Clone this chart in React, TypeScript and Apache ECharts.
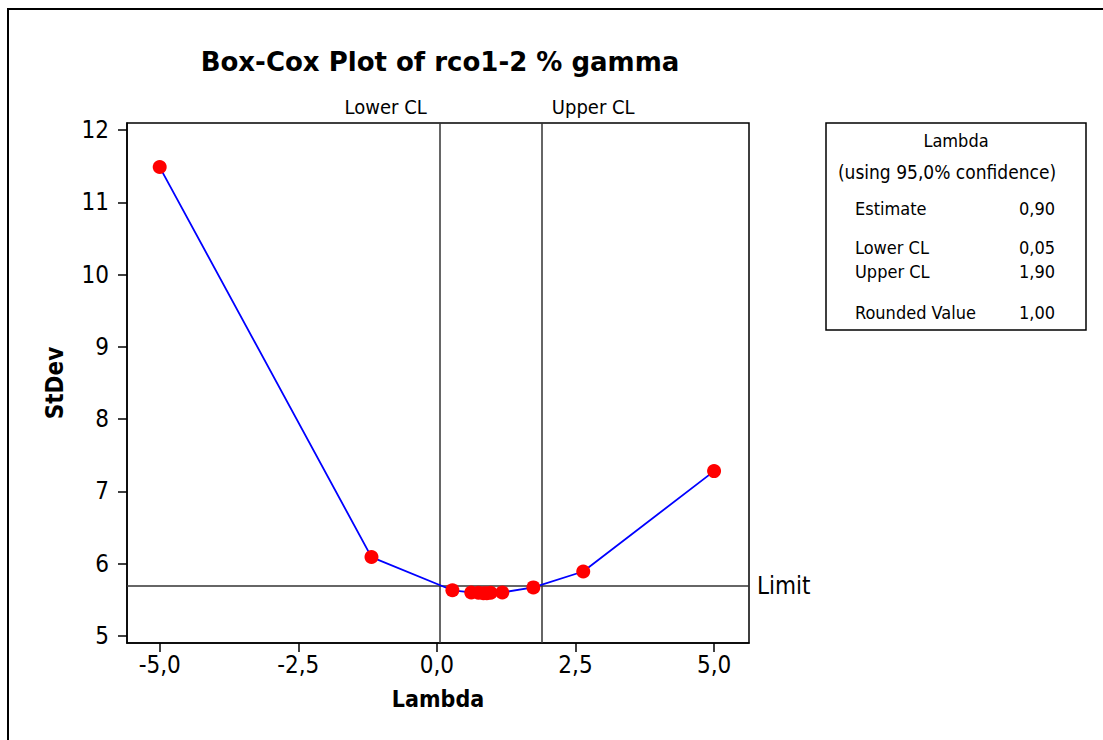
import React, { useEffect, useRef } from "react";
import * as echarts from "echarts";

// Box-Cox search: lambda values evaluated and the resulting pooled StDev
const lambdas = [-5, -1.18, 0.28, 0.62, 0.75, 0.84, 0.9, 0.97, 1.18, 1.74, 2.64, 5];
const stdevs = [11.49, 6.09, 5.63, 5.6, 5.595, 5.59, 5.59, 5.595, 5.6, 5.67, 5.89, 7.28];

const xTicks = [-5, -2.5, 0, 2.5, 5];
const yTicks = [5, 6, 7, 8, 9, 10, 11, 12];

// Summary values
const lambdaEstimate = 0.9;
const lowerCL = 0.05;
const upperCL = 1.9;
const roundedValue = 1.0;
const limitStDev = 5.69;

const FONT = "'DejaVu Sans Condensed', 'Noto Sans', 'DejaVu Sans', sans-serif";
const fmt = (v: number, d: number) => v.toFixed(d).replace(".", ",");

export default function App() {
  const ref = useRef<HTMLDivElement>(null);

  useEffect(() => {
    if (!ref.current) return;
    const chart = echarts.init(ref.current, undefined, { renderer: "svg" });

    const rowLabels = ["Estimate", "Lower CL", "Upper CL", "Rounded Value"];
    const rowValues = [lambdaEstimate, lowerCL, upperCL, roundedValue];
    const rowY = [208, 247, 271, 312];
    const boxFont = `18px ${FONT}`;

    const boxTexts: any[] = [
      {
        type: "text",
        x: 956,
        y: 140,
        style: { text: "Lambda", font: boxFont, fill: "#000", align: "center", verticalAlign: "middle" },
      },
      {
        type: "text",
        x: 947,
        y: 172,
        style: {
          text: "(using 95,0% confidence)",
          font: `19px ${FONT}`,
          fill: "#000",
          align: "center",
          verticalAlign: "middle",
        },
      },
    ];
    rowLabels.forEach((lab, i) => {
      boxTexts.push({
        type: "text",
        x: 855,
        y: rowY[i],
        style: { text: lab, font: boxFont, fill: "#000", align: "left", verticalAlign: "middle" },
      });
      boxTexts.push({
        type: "text",
        x: 1055,
        y: rowY[i],
        style: { text: fmt(rowValues[i], 2), font: boxFont, fill: "#000", align: "right", verticalAlign: "middle" },
      });
    });

    chart.setOption({
      animation: false,
      backgroundColor: "#fff",
      title: {
        text: "Box-Cox Plot of rco1-2 % gamma",
        left: 435,
        top: 44,
        textAlign: "center",
        textStyle: { fontFamily: "'DejaVu Sans', sans-serif", fontWeight: "bold", fontSize: 26, color: "#000" },
      },
      grid: { left: 127, top: 123, right: 354, bottom: 97, show: true, borderColor: "#000", borderWidth: 1.5 },
      xAxis: {
        type: "value",
        min: -5.59,
        max: 5.63,
        name: "Lambda",
        nameLocation: "middle",
        nameGap: 44,
        nameTextStyle: { fontFamily: FONT, fontWeight: "bold", fontSize: 23, color: "#000" },
        axisLine: { show: true, onZero: false, lineStyle: { color: "#000", width: 1.5 } },
        axisTick: { show: true, length: 9, lineStyle: { color: "#000", width: 1.5 }, customValues: xTicks },
        axisLabel: {
          fontFamily: FONT,
          fontSize: 24,
          color: "#000",
          margin: 10,
          customValues: xTicks,
          formatter: (v: number) => fmt(v, 1),
        },
        splitLine: { show: false },
      },
      yAxis: {
        type: "value",
        min: 4.9,
        max: 12.1,
        name: "StDev",
        nameLocation: "middle",
        nameGap: 60,
        nameRotate: 90,
        nameTextStyle: { fontFamily: FONT, fontWeight: "bold", fontSize: 24, color: "#000" },
        axisLine: { show: true, onZero: false, lineStyle: { color: "#000", width: 1.5 } },
        axisTick: { show: true, length: 9, lineStyle: { color: "#000", width: 1.5 }, customValues: yTicks },
        axisLabel: {
          fontFamily: FONT,
          fontSize: 24,
          color: "#000",
          margin: 18,
          customValues: yTicks,
          formatter: (v: number) => String(v),
        },
        splitLine: { show: false },
      },
      series: [
        {
          type: "line",
          data: lambdas.map((l, i) => [l, stdevs[i]]),
          lineStyle: { color: "#0000ff", width: 1.8 },
          itemStyle: { color: "#ff0000" },
          symbol: "circle",
          symbolSize: 14,
          showSymbol: true,
          z: 5,
          markLine: {
            silent: true,
            symbol: "none",
            animation: false,
            lineStyle: { color: "#333", width: 1.5, type: "solid" },
            label: { fontFamily: FONT, fontSize: 20, color: "#000" },
            data: [
              {
                xAxis: lowerCL,
                label: { show: true, position: "end", formatter: "Lower CL", offset: [-54, -1] },
              },
              {
                xAxis: upperCL,
                label: { show: true, position: "end", formatter: "Upper CL", offset: [51, -1] },
              },
              {
                yAxis: limitStDev,
                label: { show: true, position: "end", formatter: "Limit", fontSize: 24, distance: 8 },
              },
            ],
          },
        },
      ],
      graphic: [
        {
          type: "rect",
          shape: { x: 8, y: 9, width: 1200, height: 800 },
          style: { fill: "none", stroke: "#000", lineWidth: 2 },
          silent: true,
        },
        {
          type: "rect",
          shape: { x: 826, y: 123, width: 260, height: 207 },
          style: { fill: "none", stroke: "#000", lineWidth: 1.5 },
          silent: true,
        },
        ...boxTexts,
      ],
    });

    return () => chart.dispose();
  }, []);

  return (
    <div
      ref={ref}
      style={{ position: "fixed", left: 0, top: 0, width: 1103, height: 740, background: "#fff" }}
    />
  );
}
